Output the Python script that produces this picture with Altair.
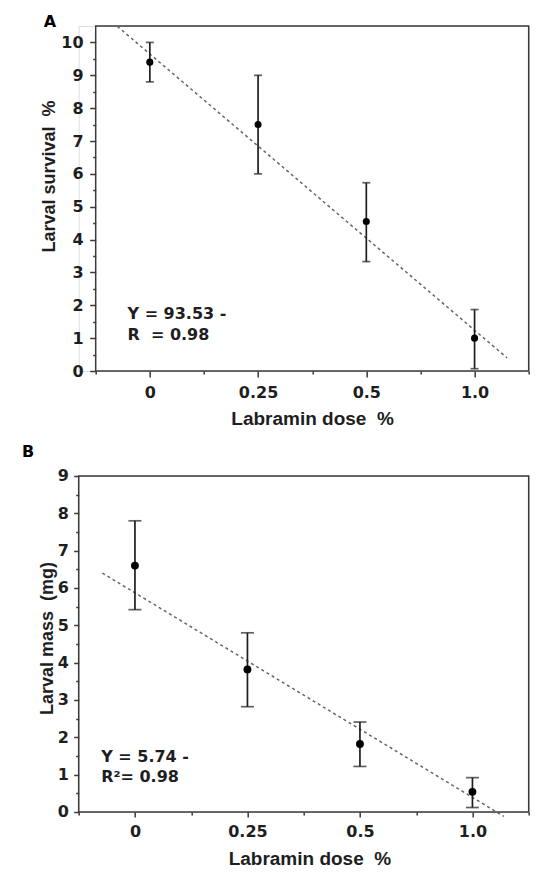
import altair as alt
import pandas as pd

# ---------------- data ----------------
DOSE_LABELS = ["0", "0.25", "0.5", "1.0"]
DOSE_POS = [0, 1, 2, 3]

SURV_MEAN = [9.40, 7.50, 4.55, 1.00]
SURV_LO = [8.80, 6.00, 3.33, 0.07]
SURV_HI = [10.00, 9.00, 5.73, 1.87]

MASS_MEAN = [6.60, 3.82, 1.82, 0.54]
MASS_LO = [5.42, 2.82, 1.22, 0.12]
MASS_HI = [7.80, 4.80, 2.41, 0.92]

FIT_A_X = [-0.30, 3.30]
FIT_A_Y = [10.49, 0.40]
FIT_B_X = [-0.29, 3.28]
FIT_B_Y = [6.40, -0.12]

EQ_A = ["Y = 93.53 -", "R\u00a0\u00a0= 0.98"]
EQ_A_X = [-0.206, -0.206]
EQ_A_Y = [1.58, 0.94]
EQ_B = ["Y = 5.74 -", "R\u00b2= 0.98"]
EQ_B_X = [-0.30, -0.30]
EQ_B_Y = [1.35, 0.79]

X_TITLE = "Labramin dose\u00a0 %"
Y_TITLE_A = "Larval survival\u00a0 %"
Y_TITLE_B = "Larval mass\u00a0 (mg)"

LABEL_FONT = "DejaVu Sans"
TITLE_FONT = "Liberation Sans"
INK = "#1e1e1e"
FRAME = "#3a3a3a"

x_label_expr = " : ".join(
    f"datum.value === {p} ? '{l}'" for p, l in zip(DOSE_POS, DOSE_LABELS)
) + " : ''"


def panel(mean, lo, hi, fit_x, fit_y, eq_txt, eq_x, eq_y, ymax, ytitle,
          letter, letter_xy, w, h, inset, major, cap, pt, ytitle_xy,
          xtitle_xy, ylab_pad, xlab_pad):
    pts = pd.DataFrame({"x": DOSE_POS, "y": mean, "lo": lo, "hi": hi})
    fit = pd.DataFrame({"x": fit_x, "y": fit_y})
    eq = pd.DataFrame({"x": eq_x, "y": eq_y, "t": eq_txt})

    cond = {"condition": {"test": "datum.value % 1 === 0", "value": major},
            "value": 3}
    xaxis = alt.Axis(
        values=[v * 0.5 for v in range(-1, 8)],
        labelExpr=x_label_expr, domain=False,
        tickSize=cond, tickColor=FRAME, tickWidth=1.5,
        labelFont=LABEL_FONT, labelFontWeight="bold", labelFontSize=16,
        labelColor=INK, labelPadding=xlab_pad, labelFlush=False,
        title=X_TITLE, titleFont=TITLE_FONT, titleFontWeight="bold",
        titleFontSize=19, titleColor=INK, titleX=xtitle_xy[0],
        titleY=xtitle_xy[1], titleAlign="center", titleBaseline="alphabetic",
        grid=False,
    )
    yaxis = alt.Axis(
        values=[v * 0.5 for v in range(0, int(ymax // 1) * 2 + 1)],
        labelExpr="datum.value % 1 === 0 ? format(datum.value, 'd') : ''",
        domain=False, offset=-inset,
        tickSize=cond, tickColor=FRAME, tickWidth=1.5,
        labelFont=LABEL_FONT, labelFontWeight="bold", labelFontSize=16,
        labelColor=INK, labelPadding=ylab_pad, labelFlush=False,
        title=ytitle, titleFont=TITLE_FONT, titleFontWeight="bold",
        titleFontSize=18, titleColor=INK, titleX=ytitle_xy[0],
        titleY=ytitle_xy[1], titleAlign="center", titleBaseline="alphabetic",
        titleAngle=270, grid=False,
    )
    xs = alt.Scale(domain=[-0.5, 3.5], nice=False, zero=False, range=[inset, w])
    ys = alt.Scale(domain=[0, ymax], nice=False, zero=False)
    X = alt.X("x:Q", scale=xs, axis=xaxis)
    Y = alt.Y("y:Q", scale=ys, axis=yaxis)

    frame = alt.Chart(pd.DataFrame({"t": [0]})).mark_rect(
        fill="transparent", stroke=FRAME, strokeWidth=1.5
    ).encode(
        x=alt.X(datum=-0.5, scale=xs, axis=xaxis),
        x2=alt.X2(datum=3.5),
        y=alt.Y(datum=0, scale=ys, axis=yaxis),
        y2=alt.Y2(datum=ymax),
    )
    line = alt.Chart(fit).mark_line(
        color="#666666", strokeWidth=1.5, strokeDash=[3, 3]
    ).encode(x=X, y=Y)
    bars = alt.Chart(pts).mark_rule(color=INK, strokeWidth=1.7).encode(
        x=X, y=alt.Y("lo:Q", scale=ys, axis=yaxis), y2="hi:Q")
    cap_lo = alt.Chart(pts).mark_tick(
        color=INK, thickness=1.7, size=cap, orient="horizontal"
    ).encode(x=X, y=alt.Y("lo:Q", scale=ys, axis=yaxis))
    cap_hi = alt.Chart(pts).mark_tick(
        color=INK, thickness=1.7, size=cap, orient="horizontal"
    ).encode(x=X, y=alt.Y("hi:Q", scale=ys, axis=yaxis))
    dots = alt.Chart(pts).mark_circle(color="black", size=pt, opacity=1).encode(
        x=X, y=Y)
    eqs = alt.Chart(eq).mark_text(
        align="left", baseline="alphabetic", font=LABEL_FONT,
        fontWeight="bold", fontSize=16, color=INK
    ).encode(x=X, y=Y, text="t:N")
    let = alt.Chart(pd.DataFrame({"t": [letter]})).mark_text(
        align="left", baseline="alphabetic", font=LABEL_FONT,
        fontWeight="bold", fontSize=16, color="black"
    ).encode(x=alt.value(letter_xy[0]), y=alt.value(letter_xy[1]), text="t:N")
    layers = [frame, line, bars, cap_lo, cap_hi, dots, eqs, let]
    return alt.layer(*layers).properties(width=w, height=h)


# panel A's frame starts 17 px right of panel B's frame
pa = panel(SURV_MEAN, SURV_LO, SURV_HI, FIT_A_X, FIT_A_Y, EQ_A, EQ_A_X, EQ_A_Y,
           10.5, Y_TITLE_A, "A", (-35, 1), 450, 345, 17, 6, 8, 50,
           (-41.3, 150), (233.4, 53), 6.6, 7.5)
pb = panel(MASS_MEAN, MASS_LO, MASS_HI, FIT_B_X, FIT_B_Y, EQ_B, EQ_B_X, EQ_B_Y,
           9, Y_TITLE_B, "B", (-56.6, -18.7), 450, 336, 0, 5, 13, 62,
           (-26.3, 162), (230.7, 52.4), 5.3, 7)

chart = alt.concat(pa, pb, columns=1, spacing=14).properties(
    padding={"left": 12.7, "top": 5, "right": 5, "bottom": 5}
).configure_view(stroke="transparent").configure(background="white")

chart.save("out.html", embed_options={"renderer": "svg", "actions": False})
